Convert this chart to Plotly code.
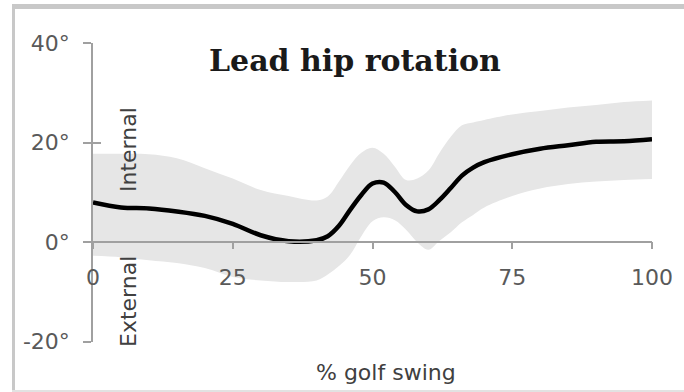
import plotly.graph_objects as go

W, H = 684, 392

swing_pct = [0, 5, 10, 15, 20, 25, 30, 35, 40, 42, 44, 46, 48, 50, 52, 54, 56, 58, 60,
             62, 64, 66, 68, 70, 75, 80, 85, 90, 95, 100]
mean_rot = [8.0, 7.0, 6.8, 6.2, 5.3, 3.7, 1.4, 0.2, 0.4, 1.2, 3.3, 6.5, 9.5, 11.8, 12.0,
            10.1, 7.5, 6.2, 6.6, 8.5, 10.9, 13.4, 15.0, 16.1, 17.7, 18.8, 19.5, 20.2, 20.3, 20.7]
upper_rot = [17.8, 17.8, 17.7, 16.9, 14.9, 12.8, 10.5, 9.3, 8.4, 9.2, 12.2, 15.5, 18.0, 19.0,
             17.8, 15.2, 12.5, 12.8, 14.4, 18.0, 21.2, 23.5, 24.1, 24.6, 25.7, 26.4, 27.1,
             27.6, 28.2, 28.5]
lower_rot = [-2.7, -3.0, -3.6, -4.2, -5.2, -7.0, -7.7, -8.0, -7.7, -6.5, -4.8, -2.5, 1.2, 4.2,
             5.0, 4.4, 2.5, 0.0, -1.5, 0.3, 2.0, 4.0, 5.5, 7.0, 9.3, 10.8, 11.7, 12.2, 12.5, 12.7]

x_ticks = [0, 25, 50, 75, 100]
x_ticktext = ["0", "25", "50", "75", "100"]
y_ticks = [-20, 0, 20, 40]
y_ticktext = ["-20°", "0°", "20°", "40°"]

title_text = "Lead hip rotation"
x_label = "% golf swing"
label_internal = "Internal"
label_external = "External"

# pixel geometry
x0px, x1px = 93, 652
ytop, ybot = 43.3, 341.7
yzero = 241.7

fig = go.Figure()
fig.add_trace(go.Scatter(x=swing_pct, y=lower_rot, mode="lines", line=dict(width=0, shape="spline"),
                         hoverinfo="skip", showlegend=False))
fig.add_trace(go.Scatter(x=swing_pct, y=upper_rot, mode="lines", line=dict(width=0, shape="spline"),
                         fill="tonexty", fillcolor="#e6e6e6", hoverinfo="skip", showlegend=False))
fig.add_trace(go.Scatter(x=swing_pct, y=mean_rot, mode="lines",
                         line=dict(color="black", width=4.5, shape="spline"), showlegend=False))
# helper trace for the cross-tick overlay axis
fig.add_trace(go.Scatter(x=[None], y=[None], yaxis="y2", showlegend=False, hoverinfo="skip"))

tickfont = dict(family="DejaVu Sans", size=22, color="#595959")
axcol = "#a0a0a0"

fig.update_layout(
    width=W, height=H,
    margin=dict(l=0, r=0, t=0, b=0, autoexpand=False),
    paper_bgcolor="white", plot_bgcolor="white",
    showlegend=False,
    xaxis=dict(domain=[x0px / W, x1px / W], range=[0, 100], anchor="free",
               position=1 - yzero / H, showgrid=False, zeroline=False,
               showline=True, linecolor=axcol, linewidth=1.5,
               ticks="outside", ticklen=7, tickcolor=axcol, tickwidth=1.5,
               tickvals=x_ticks, ticktext=x_ticktext, tickfont=tickfont,
               ticklabelstandoff=9, automargin=False),
    yaxis=dict(domain=[1 - ybot / H, 1 - ytop / H], range=[-20, 40], showgrid=False,
               zeroline=False, showline=True, linecolor=axcol, linewidth=1.5,
               ticks="outside", ticklen=8, tickcolor=axcol, tickwidth=1.5,
               tickvals=y_ticks, ticktext=y_ticktext, tickfont=tickfont,
               ticklabelstandoff=9, automargin=False),
    yaxis2=dict(domain=[1 - ybot / H, 1 - ytop / H], range=[-20, 40], overlaying="y",
                anchor="x", side="left", showgrid=False, zeroline=False, showline=False,
                ticks="inside", ticklen=8, tickcolor=axcol, tickwidth=1.5,
                tickvals=y_ticks, showticklabels=False, automargin=False),
)

def ann(px, py, text, font, angle=0):
    fig.add_annotation(x=px / W, y=1 - py / H, xref="paper", yref="paper", text=text,
                       xanchor="center", yanchor="middle", textangle=angle,
                       showarrow=False, font=font)

ann(355, 60, "<b>" + title_text + "</b>", dict(family="DejaVu Serif", size=30, color="#1a1a1a"))
lab_font = dict(family="DejaVu Sans", size=22, color="#404040")
ann(386, 372, x_label, lab_font)
ann(128, 150, label_internal, lab_font, -90)
ann(128, 302, label_external, lab_font, -90)

# frame
fig.add_shape(type="rect", xref="paper", yref="paper", x0=12 / W, x1=1, y0=1 - 9 / H, y1=1 - 4 / H,
              fillcolor="#c8c8c8", line=dict(width=0), layer="above")
fig.add_shape(type="rect", xref="paper", yref="paper", x0=12 / W, x1=15 / W, y0=0, y1=1 - 4 / H,
              fillcolor="#c8c8c8", line=dict(width=0), layer="above")
fig.add_shape(type="rect", xref="paper", yref="paper", x0=12 / W, x1=1, y0=0, y1=2 / H,
              fillcolor="#e2e2e2", line=dict(width=0), layer="above")

fig.write_html("out.html", config={"displayModeBar": False},
               post_script="document.body.style.margin='0';document.body.style.overflow='hidden';")
